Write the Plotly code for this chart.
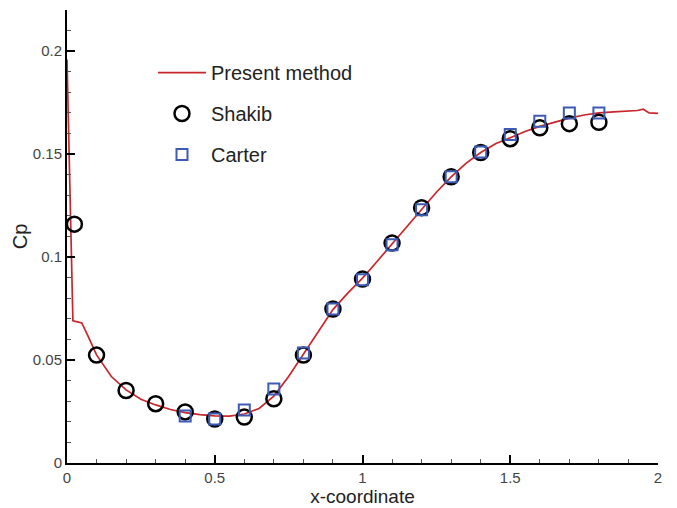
import plotly.graph_objects as go

# Present method (line)
line_x = [0.0, 0.005, 0.01, 0.015, 0.02, 0.035, 0.05, 0.07, 0.1, 0.15, 0.2, 0.25, 0.3, 0.35, 0.4, 0.45,
          0.5, 0.55, 0.6, 0.65, 0.7, 0.75, 0.8, 0.85, 0.9, 0.95, 1.0, 1.05, 1.1, 1.15, 1.2,
          1.25, 1.3, 1.35, 1.4, 1.45, 1.5, 1.55, 1.6, 1.65, 1.7, 1.75, 1.8, 1.85, 1.9, 1.93,
          1.95, 1.97, 2.0]
line_y = [0.196, 0.165, 0.133, 0.100, 0.069, 0.0685, 0.068, 0.062, 0.0525, 0.042, 0.0355, 0.031, 0.0282,
          0.0260, 0.0245, 0.0235, 0.0229, 0.0228, 0.0238, 0.0265, 0.0325, 0.042, 0.053, 0.064,
          0.0745, 0.0825, 0.0898, 0.098, 0.1065, 0.115, 0.1235, 0.1315, 0.139, 0.1455, 0.1508,
          0.155, 0.158, 0.161, 0.1635, 0.1655, 0.1675, 0.169, 0.170, 0.1705, 0.171, 0.1712,
          0.1718, 0.1700, 0.1698]

# Shakib (circles)
shakib_x = [0.025, 0.1, 0.2, 0.3, 0.4, 0.5, 0.6, 0.7, 0.8, 0.9, 1.0, 1.1, 1.2, 1.3, 1.4, 1.5, 1.6, 1.7, 1.8]
shakib_y = [0.116, 0.0524, 0.0352, 0.0288, 0.0248, 0.0214, 0.0223, 0.0312, 0.0524, 0.0748, 0.0893,
            0.1068, 0.1240, 0.1390, 0.1508, 0.1575, 0.1628, 0.1648, 0.1655]

# Carter (squares)
carter_x = [0.4, 0.5, 0.6, 0.7, 0.8, 0.9, 1.0, 1.1, 1.2, 1.3, 1.4, 1.5, 1.6, 1.7, 1.8]
carter_y = [0.0228, 0.0214, 0.0257, 0.0359, 0.0534, 0.0748, 0.0890, 0.1060, 0.1230, 0.1390,
            0.1510, 0.1595, 0.1660, 0.1700, 0.1700]

FONT = "Liberation Sans, Arial, Helvetica"

fig = go.Figure()
fig.add_trace(go.Scatter(x=line_x, y=line_y, mode="lines", name="Present method",
                         line=dict(color="#c8262b", width=1.7), legendgroup="a"))
fig.add_trace(go.Scatter(x=shakib_x, y=shakib_y, mode="markers", name="Shakib",
                         marker=dict(symbol="circle-open", size=15, color="black",
                                     line=dict(width=2.5, color="black")), legendgroup="b"))
fig.add_trace(go.Scatter(x=carter_x, y=carter_y, mode="markers", name="Carter",
                         marker=dict(symbol="square-open", size=11, color="#3d5bb5",
                                     line=dict(width=2, color="#3d5bb5")), legendgroup="c"))

axis_common = dict(showline=True, linecolor="black", linewidth=2, showgrid=False, zeroline=False,
                   ticks="inside", ticklen=8, tickwidth=2, tickcolor="black",
                   tickfont=dict(family=FONT, size=15, color="#444"),
                   mirror=False)

fig.update_xaxes(range=[0, 2], tick0=0, dtick=0.5,
                 minor=dict(ticks="inside", ticklen=4, tickwidth=1, tickcolor="#555", dtick=0.1),
                 title=dict(text="x-coordinate", font=dict(family=FONT, size=19, color="#222"),
                            standoff=0),
                 **axis_common)
fig.update_yaxes(range=[0, 0.22], tickvals=[0, 0.05, 0.1, 0.15, 0.2],
                 ticktext=["0", "0.05", "0.1", "0.15", "0.2"],
                 minor=dict(ticks="inside", ticklen=4, tickwidth=1, tickcolor="#555", dtick=0.01),
                 title=dict(text="Cp", font=dict(family=FONT, size=20, color="#222"),
                            standoff=0),
                 **axis_common)

fig.update_layout(
    width=677, height=508,
    margin=dict(l=67, r=19, t=10, b=45),
    plot_bgcolor="white", paper_bgcolor="white",
    legend=dict(x=0.1455, y=0.905, xanchor="left", yanchor="top", bgcolor="rgba(0,0,0,0)",
                font=dict(family=FONT, size=20, color="#222"),
                traceorder="grouped", tracegroupgap=12, itemwidth=48),
    showlegend=True,
)

fig.write_html("out.html")
